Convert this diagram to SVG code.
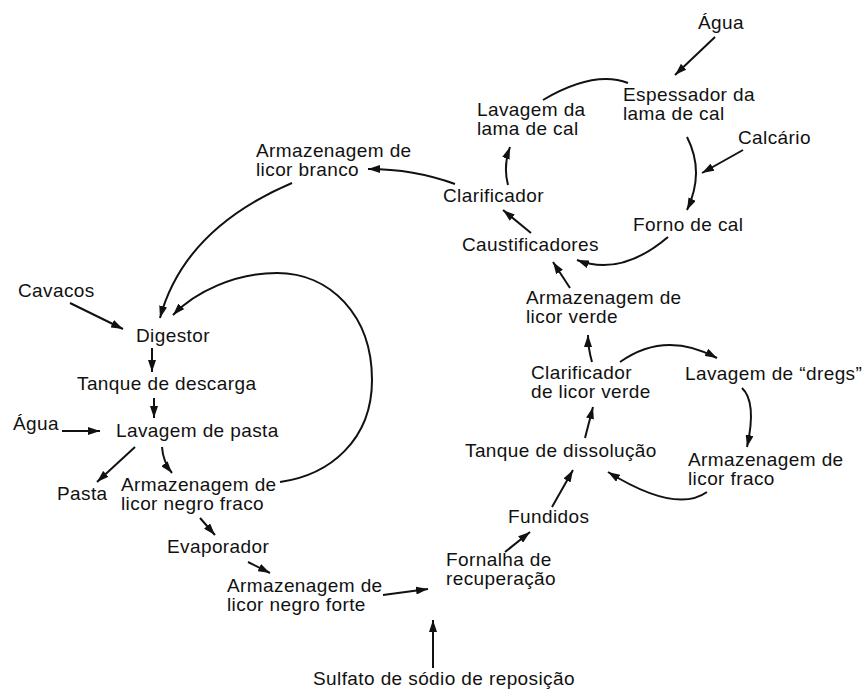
<svg xmlns="http://www.w3.org/2000/svg" width="865" height="690" viewBox="0 0 865 690">
<defs>
<style>
text{font-family:"Liberation Sans",Arial,Helvetica,sans-serif;font-size:19px;letter-spacing:0.4px;fill:#111}
.c path,.c line{fill:none;stroke:#111;stroke-width:2}
.a{marker-end:url(#ah)}
</style>
<marker id="ah" markerUnits="userSpaceOnUse" markerWidth="13" markerHeight="8" refX="12" refY="4" orient="auto">
<path d="M0,0 L12,4 L0,8 z" fill="#111"/>
</marker>
</defs>
<rect width="865" height="690" fill="#fff"/>
<g id="n-agua-top"><text x="698" y="29">Água</text></g>
<g id="n-espessador"><text x="623" y="101">Espessador da</text><text x="623" y="120">lama de cal</text></g>
<g id="n-lavagem-lama"><text x="477" y="116">Lavagem da</text><text x="477" y="135">lama de cal</text></g>
<g id="n-calcario"><text x="738" y="144">Calcário</text></g>
<g id="n-forno"><text x="633" y="231">Forno de cal</text></g>
<g id="n-caustificadores"><text x="462" y="251">Caustificadores</text></g>
<g id="n-clarificador"><text x="443" y="202">Clarificador</text></g>
<g id="n-licor-branco"><text x="256" y="157">Armazenagem de</text><text x="256" y="176">licor branco</text></g>
<g id="n-cavacos"><text x="18" y="297">Cavacos</text></g>
<g id="n-digestor"><text x="136" y="342">Digestor</text></g>
<g id="n-tanque-descarga"><text x="77" y="390">Tanque de descarga</text></g>
<g id="n-agua-left"><text x="13" y="430">Água</text></g>
<g id="n-lavagem-pasta"><text x="116" y="437">Lavagem de pasta</text></g>
<g id="n-pasta"><text x="57" y="500">Pasta</text></g>
<g id="n-negro-fraco"><text x="121" y="491">Armazenagem de</text><text x="121" y="510">licor negro fraco</text></g>
<g id="n-evaporador"><text x="167" y="553">Evaporador</text></g>
<g id="n-negro-forte"><text x="227" y="592">Armazenagem de</text><text x="227" y="611">licor negro forte</text></g>
<g id="n-fornalha"><text x="446" y="566">Fornalha de</text><text x="446" y="585">recuperação</text></g>
<g id="n-sulfato"><text x="313" y="685">Sulfato de sódio de reposição</text></g>
<g id="n-fundidos"><text x="508" y="523">Fundidos</text></g>
<g id="n-tanque-dissolucao"><text x="465" y="457">Tanque de dissolução</text></g>
<g id="n-clarificador-verde"><text x="531" y="379">Clarificador</text><text x="531" y="398">de licor verde</text></g>
<g id="n-licor-verde"><text x="526" y="304">Armazenagem de</text><text x="526" y="323">licor verde</text></g>
<g id="n-dregs"><text x="685" y="380">Lavagem de “dregs”</text></g>
<g id="n-licor-fraco"><text x="688" y="466">Armazenagem de</text><text x="688" y="485">licor fraco</text></g>
<g id="connectors" class="c">
<line class="a" x1="715" y1="37" x2="675" y2="75"/>
<path d="M543,100 Q594,70 628,83"/>
<path class="a" d="M687,137 Q705,172 687,210"/>
<line class="a" x1="743" y1="150" x2="702" y2="173"/>
<path class="a" d="M668,237 Q621,277 577,260"/>
<line class="a" x1="531" y1="233" x2="503" y2="210"/>
<path class="a" d="M508,185 Q503,166 510,147"/>
<path class="a" d="M455,184 Q414,169 368,169"/>
<path class="a" d="M292,183 Q184,229 160,318"/>
<path class="a" d="M280,482 C330,475 372,440 372,380 C372,315 330,273 277,273 C235,273 195,292 173,315"/>
<line class="a" x1="70" y1="303" x2="123" y2="329"/>
<line class="a" x1="152" y1="348" x2="152" y2="372"/>
<line class="a" x1="154" y1="398" x2="154" y2="418"/>
<line class="a" x1="62" y1="431" x2="100" y2="431"/>
<line class="a" x1="135" y1="447" x2="97" y2="482"/>
<path class="a" d="M162,447 Q163,462 172,473"/>
<line class="a" x1="200" y1="518" x2="215" y2="535"/>
<line class="a" x1="248" y1="562" x2="270" y2="573"/>
<line class="a" x1="383" y1="595" x2="428" y2="589"/>
<line class="a" x1="433" y1="668" x2="433" y2="620"/>
<line class="a" x1="505" y1="552" x2="530" y2="532"/>
<line class="a" x1="552" y1="507" x2="573" y2="470"/>
<line class="a" x1="585" y1="438" x2="593" y2="407"/>
<path class="a" d="M592,362 Q588,348 588,335"/>
<line class="a" x1="570" y1="288" x2="553" y2="262"/>
<path class="a" d="M620,362 Q665,330 717,358"/>
<path class="a" d="M742,388 Q757,402 747,447"/>
<path class="a" d="M707,492 Q676,514 608,472"/>
</g>
</svg>
